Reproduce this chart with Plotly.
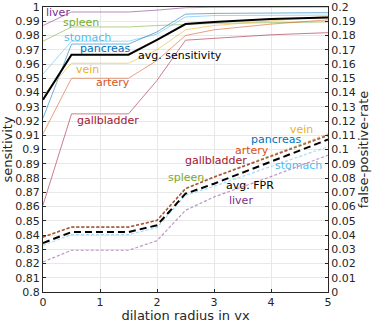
import plotly.graph_objects as go

radius = [0, 0.5, 1, 1.5, 2, 2.5, 3, 4, 5]

organs = ["liver", "spleen", "stomach", "pancreas", "vein", "artery", "gallbladder"]
colors = {
    "liver": "#7E2F8E",
    "spleen": "#77AC30",
    "stomach": "#4DBEEE",
    "pancreas": "#0072BD",
    "vein": "#EDB120",
    "artery": "#D95319",
    "gallbladder": "#A2142F",
}

# sensitivity per organ (left axis)
sens_liver = [0.987, 0.9965, 0.9965, 0.9965, 0.9978, 0.9995, 0.9998, 1.0, 1.0]
sens_spleen = [0.976, 0.986, 0.986, 0.986, 0.987, 0.988, 0.9885, 0.989, 0.9895]
sens_stomach = [0.953, 0.976, 0.976, 0.976, 0.981, 0.993, 0.994, 0.9942, 0.9943]
sens_pancreas = [0.922, 0.974, 0.974, 0.974, 0.9825, 0.995, 0.9955, 0.9958, 0.996]
sens_vein = [0.938, 0.9605, 0.9605, 0.9605, 0.970, 0.984, 0.987, 0.990, 0.9935]
sens_artery = [0.911, 0.950, 0.950, 0.950, 0.9625, 0.980, 0.984, 0.988, 0.991]
sens_gallbladder = [0.861, 0.925, 0.925, 0.925, 0.9485, 0.9767, 0.978, 0.9805, 0.982]
sens_avg = [0.935, 0.9665, 0.9665, 0.9665, 0.977, 0.988, 0.9895, 0.9916, 0.9926]

# false positive rate per organ (right axis)
fpr_liver = [0.0211, 0.0293, 0.0293, 0.0293, 0.0360, 0.0573, 0.0667, 0.081, 0.096]
fpr_spleen = [0.0384, 0.0454, 0.0454, 0.0454, 0.0501, 0.0723, 0.0804, 0.0952, 0.1095]
fpr_stomach = [0.0328, 0.0403, 0.0403, 0.0403, 0.0452, 0.0679, 0.0742, 0.088, 0.102]
fpr_pancreas = [0.0387, 0.0457, 0.0457, 0.0457, 0.0504, 0.0727, 0.0808, 0.0957, 0.1105]
fpr_vein = [0.0388, 0.0458, 0.0458, 0.0458, 0.0505, 0.0728, 0.0810, 0.0960, 0.111]
fpr_artery = [0.0386, 0.0456, 0.0456, 0.0456, 0.0503, 0.0726, 0.0807, 0.0955, 0.110]
fpr_gallbladder = [0.0385, 0.0455, 0.0455, 0.0455, 0.0502, 0.0725, 0.0806, 0.0954, 0.1098]
fpr_avg = [0.0344, 0.0421, 0.0421, 0.0421, 0.0468, 0.069, 0.076, 0.0915, 0.107]

sens = {"liver": sens_liver, "spleen": sens_spleen, "stomach": sens_stomach,
        "pancreas": sens_pancreas, "vein": sens_vein, "artery": sens_artery,
        "gallbladder": sens_gallbladder}
fpr = {"liver": fpr_liver, "spleen": fpr_spleen, "stomach": fpr_stomach,
       "pancreas": fpr_pancreas, "vein": fpr_vein, "artery": fpr_artery,
       "gallbladder": fpr_gallbladder}

# label positions (x, y) in data coords
sens_labels = {"liver": (0.01, 0.9963), "spleen": (0.32, 0.9891), "stomach": (0.34, 0.9788),
               "pancreas": (0.61, 0.9712), "vein": (0.55, 0.9563), "artery": (0.89, 0.947),
               "gallbladder": (0.57, 0.9205)}
fpr_labels = {"vein": (4.30, 0.1138), "pancreas": (3.62, 0.1072), "artery": (3.33, 0.0994),
              "gallbladder": (2.46, 0.0920), "stomach": (4.04, 0.0886), "spleen": (2.15, 0.0806),
              "liver": (3.22, 0.0645)}

fig = go.Figure()

for o in organs:
    fig.add_trace(go.Scatter(x=radius, y=sens[o], mode="lines", opacity=0.55,
                             line=dict(color=colors[o], width=1), yaxis="y"))
for o in organs:
    fig.add_trace(go.Scatter(x=radius, y=fpr[o], mode="lines", opacity=0.5,
                             line=dict(color=colors[o], width=1.2, dash="3px,2px"), yaxis="y2"))

fig.add_trace(go.Scatter(x=radius, y=sens_avg, mode="lines",
                         line=dict(color="black", width=2), yaxis="y"))
fig.add_trace(go.Scatter(x=radius, y=fpr_avg, mode="lines",
                         line=dict(color="black", width=2, dash="7px,4px"), yaxis="y2"))

font = "DejaVu Sans"
for o, (xx, yy) in sens_labels.items():
    fig.add_annotation(x=xx, y=yy, yref="y", text=o, showarrow=False, xanchor="left",
                       font=dict(family=font, size=11, color=colors[o]))
for o, (xx, yy) in fpr_labels.items():
    fig.add_annotation(x=xx, y=yy, yref="y2", text=o, showarrow=False, xanchor="left",
                       font=dict(family=font, size=11, color=colors[o]))
fig.add_annotation(x=1.63, y=0.966, yref="y", text="avg. sensitivity", showarrow=False,
                   xanchor="left", font=dict(family=font, size=11, color="black"))
fig.add_annotation(x=3.17, y=0.0745, yref="y2", text="avg. FPR", showarrow=False,
                   xanchor="left", font=dict(family=font, size=11, color="black"))

axis_col = "#262626"
grid_col = "#e8e8e8"
fig.update_layout(
    width=374, height=323,
    margin=dict(l=43, r=46, t=7, b=31),
    paper_bgcolor="white", plot_bgcolor="white",
    showlegend=False,
    font=dict(family=font, size=11, color=axis_col),
    xaxis=dict(range=[0, 5], dtick=1, showgrid=True, gridcolor=grid_col, zeroline=False,
               showline=True, linecolor=axis_col, mirror=True, ticks="inside", ticklen=3,
               tickcolor=axis_col, automargin=False,
               title=dict(text="dilation radius in vx", standoff=2)),
    yaxis=dict(range=[0.8, 1.0], dtick=0.01, showgrid=True, gridcolor=grid_col, zeroline=False,
               showline=True, linecolor=axis_col, ticks="inside", ticklen=3, tickcolor=axis_col,
               automargin=False, title=dict(text="sensitivity", standoff=4)),
    yaxis2=dict(range=[0, 0.2], dtick=0.01, overlaying="y", side="right", showgrid=False,
                zeroline=False, showline=True, linecolor=axis_col, ticks="inside", ticklen=3,
                tickcolor=axis_col, automargin=False,
                title=dict(text="false-positive-rate", standoff=4)),
)

# page body has an 8px default margin; drop it so the figure sits at the corner
fig.write_html("out.html", config={"displayModeBar": False},
               post_script="document.body.style.margin='0';")
